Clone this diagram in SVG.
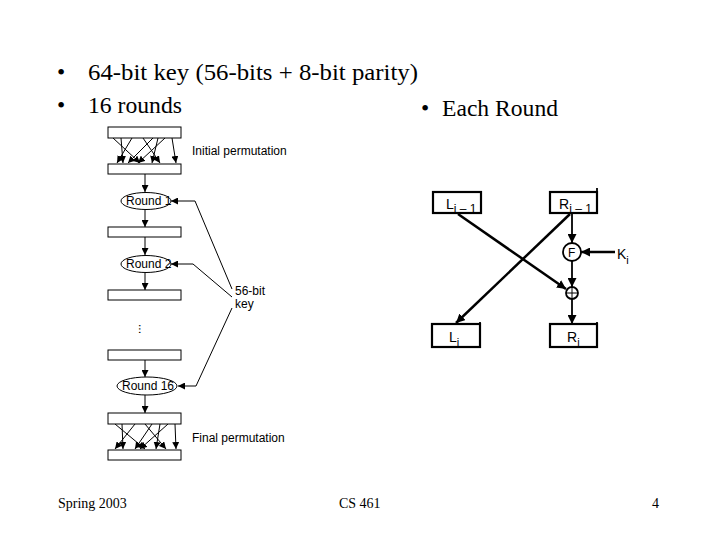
<svg xmlns="http://www.w3.org/2000/svg" width="720" height="540" viewBox="0 0 720 540">
<defs>
<style>
.hd{font-family:"Liberation Serif","Times New Roman",serif;font-size:23.5px;fill:#000}
.ft{font-family:"Liberation Serif","Times New Roman",serif;font-size:14px;fill:#000}
.sm{font-family:"Liberation Sans",Arial,sans-serif;font-size:12px;fill:#000}
.lb{font-family:"Liberation Sans",Arial,sans-serif;font-size:14px;fill:#000}
.box{fill:#fff;stroke:#000;stroke-width:1}
.tbox{fill:#fff;stroke:#000;stroke-width:2.2}
.ln{fill:none;stroke:#000;stroke-width:1}
.thk{fill:none;stroke:#000;stroke-width:2.5}
.med{fill:none;stroke:#000;stroke-width:1.8}
</style>
<marker id="a" viewBox="0 0 10 10" refX="10" refY="5" markerWidth="7" markerHeight="7" markerUnits="userSpaceOnUse" orient="auto"><path d="M0,0 L10,5 L0,10 z" fill="#000"/></marker>
<marker id="b" viewBox="0 0 10 10" refX="10" refY="5" markerWidth="9" markerHeight="9" markerUnits="userSpaceOnUse" orient="auto"><path d="M0,0 L10,5 L0,10 z" fill="#000"/></marker>
</defs>
<rect width="720" height="540" fill="#fff"/>

<g id="header">
<text class="hd" x="57" y="80">•</text>
<text class="hd" x="88" y="80" textLength="330" lengthAdjust="spacingAndGlyphs">64-bit key (56-bits + 8-bit parity)</text>
<text class="hd" x="57" y="113">•</text>
<text class="hd" x="88" y="113" textLength="94" lengthAdjust="spacingAndGlyphs">16 rounds</text>
<text class="hd" x="421" y="116">•</text>
<text class="hd" x="442" y="116" textLength="116" lengthAdjust="spacingAndGlyphs">Each Round</text>
</g>

<g id="connectors">
<g marker-end="url(#a)" class="ln">
<line x1="113" y1="138" x2="140" y2="163"/>
<line x1="121" y1="138" x2="123" y2="163"/>
<line x1="132" y1="138" x2="117" y2="163"/>
<line x1="143" y1="138" x2="160" y2="163"/>
<line x1="153" y1="138" x2="128" y2="163"/>
<line x1="158" y1="138" x2="152" y2="163"/>
<line x1="165" y1="138" x2="138" y2="163"/>
<line x1="172" y1="138" x2="176" y2="163"/>
</g>
<g marker-end="url(#a)" class="ln">
<line x1="115" y1="424" x2="145" y2="449"/>
<line x1="122" y1="424" x2="123" y2="449"/>
<line x1="135" y1="424" x2="115" y2="449"/>
<line x1="145" y1="424" x2="166" y2="449"/>
<line x1="152" y1="424" x2="135" y2="449"/>
<line x1="160" y1="424" x2="156" y2="449"/>
<line x1="168" y1="424" x2="140" y2="449"/>
<line x1="175" y1="424" x2="176" y2="449"/>
</g>
<g marker-end="url(#a)" class="ln">
<line x1="145" y1="174" x2="145" y2="192"/>
<line x1="145" y1="210" x2="145" y2="227"/>
<line x1="145" y1="237" x2="145" y2="255"/>
<line x1="145" y1="273" x2="145" y2="290"/>
<line x1="145" y1="360" x2="145" y2="377"/>
<line x1="145" y1="395" x2="145" y2="413"/>
</g>
<path class="ln" d="M232,289 L195,201 L171,201" marker-end="url(#a)"/>
<path class="ln" d="M232,297 L193,264 L171,264" marker-end="url(#a)"/>
<path class="ln" d="M232,308 L196,386 L178,386" marker-end="url(#a)"/>
<line class="thk" x1="458" y1="214" x2="566" y2="289" marker-end="url(#b)"/>
<line class="thk" x1="570" y1="214" x2="456" y2="323" marker-end="url(#b)"/>
<line class="med" x1="572" y1="214" x2="572" y2="243" marker-end="url(#b)"/>
<line class="med" x1="572" y1="261" x2="572" y2="287" marker-end="url(#b)"/>
<line class="med" x1="572" y1="299" x2="572" y2="324" marker-end="url(#b)"/>
<line class="thk" x1="615" y1="252" x2="581" y2="252" marker-end="url(#b)"/>
</g>

<g id="ip-top"><rect class="box" x="108" y="127" width="73" height="11"/></g>
<g id="ip-bottom"><rect class="box" x="108" y="164" width="73" height="10"/></g>
<text class="sm" x="192" y="155">Initial permutation</text>

<g id="round1"><ellipse class="box" cx="146" cy="201" rx="25" ry="8.5"/><text class="sm" x="126" y="205">Round 1</text></g>
<g id="box2"><rect class="box" x="108" y="227" width="73" height="10"/></g>
<g id="round2"><ellipse class="box" cx="146" cy="264" rx="25" ry="8.5"/><text class="sm" x="126" y="268">Round 2</text></g>
<g id="box3"><rect class="box" x="108" y="290" width="73" height="10"/></g>
<g id="dots"><text class="sm" x="140" y="331" transform="rotate(90 143 327)">...</text></g>
<g id="box4"><rect class="box" x="108" y="350" width="73" height="10"/></g>
<g id="round16"><ellipse class="box" cx="147" cy="386" rx="30" ry="9"/><text class="sm" x="122" y="390">Round 16</text></g>
<g id="fp-top"><rect class="box" x="108" y="413" width="73" height="11"/></g>
<g id="fp-bottom"><rect class="box" x="108" y="450" width="73" height="10"/></g>
<text class="sm" x="192" y="442">Final permutation</text>

<g id="key"><text class="sm" x="235" y="295" font-size="11">56-bit</text><text class="sm" x="235" y="308" font-size="11">key</text></g>

<g id="Li-1"><rect class="tbox" x="433" y="192" width="48" height="21"/><text class="lb" x="446" y="209">L<tspan font-size="12" dy="4">i – 1</tspan></text></g>
<g id="Ri-1"><rect class="tbox" x="550" y="192" width="47" height="21"/><line class="med" x1="597" y1="188" x2="597" y2="198"/><text class="lb" x="559" y="209">R<tspan font-size="12" dy="4">i – 1</tspan></text></g>
<g id="F"><circle cx="572" cy="252" r="9" fill="#fff" stroke="#000" stroke-width="1.8"/><text class="sm" x="568" y="256.5">F</text></g>
<g id="xor"><circle cx="572" cy="293" r="6" fill="#fff" stroke="#000" stroke-width="1.8"/><line class="ln" x1="566" y1="293" x2="578" y2="293"/><line class="ln" x1="572" y1="287" x2="572" y2="299"/></g>
<g id="Ki"><text class="lb" x="617" y="259">K<tspan font-size="11" dy="5">i</tspan></text></g>
<g id="Li"><rect class="tbox" x="432" y="324" width="48" height="23"/><line class="med" x1="480" y1="322" x2="480" y2="332"/><text class="lb" x="449" y="342">L<tspan font-size="11" dy="4">i</tspan></text></g>
<g id="Ri"><rect class="tbox" x="550" y="324" width="47" height="23"/><line class="med" x1="597" y1="322" x2="597" y2="332"/><text class="lb" x="567" y="342">R<tspan font-size="11" dy="4">i</tspan></text></g>

<g id="footer">
<text class="ft" x="58" y="508">Spring 2003</text>
<text class="ft" x="339" y="508">CS 461</text>
<text class="ft" x="652" y="508">4</text>
</g>
</svg>
